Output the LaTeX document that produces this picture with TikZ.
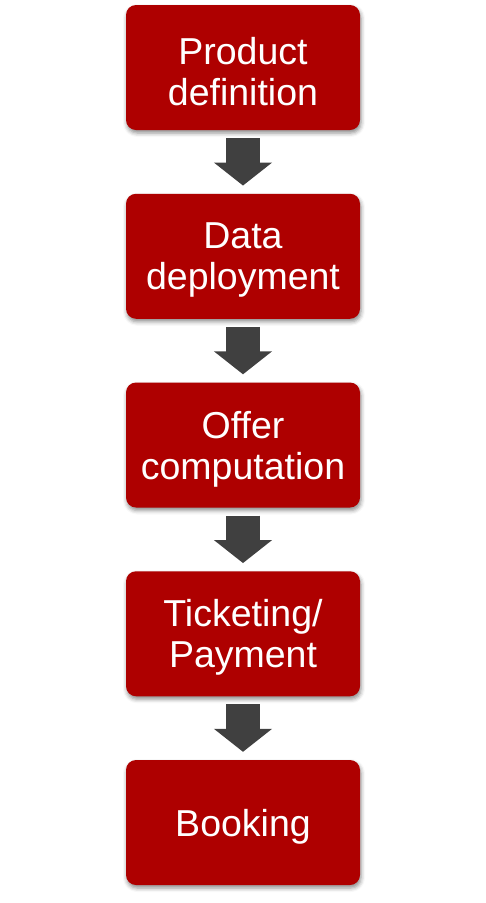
\documentclass[tikz,border=0pt]{standalone}
\usepackage{fontspec}
\setmainfont{Liberation Sans}
\usetikzlibrary{arrows.meta,calc,shadows.blur}
\definecolor{boxred}{HTML}{AE0000}
\definecolor{arrowgrey}{HTML}{404040}
\tikzset{
  stepbox/.style={fill=boxred, draw=none, rounded corners=10pt, minimum width=234pt, minimum height=125pt,
    inner sep=0pt,
    blur shadow={shadow xshift=1pt, shadow yshift=-3pt, shadow blur radius=4pt, shadow opacity=45}},
  steptext/.style={text=white, align=center, inner sep=0pt, yshift=-4pt,
    font=\fontsize{37.5pt}{41pt}\selectfont},
  flowarrow/.style={draw=arrowgrey, line width=34pt, -{Triangle[width=57pt,length=23pt]}}
}
\begin{document}
\begin{tikzpicture}[x=1pt,y=1pt]
\useasboundingbox (0,0) rectangle (486,-903);
\node[stepbox] (n1) at (243,-67.5) {};
\node[stepbox] (n2) at (243,-256.25) {};
\node[stepbox] (n3) at (243,-445) {};
\node[stepbox] (n4) at (243,-633.75) {};
\node[stepbox] (n5) at (243,-822.5) {};
\node[steptext] (t1) at (n1.center) {Product\\definition};
\node[steptext] (t2) at (n2.center) {Data\\deployment};
\node[steptext] (t3) at (n3.center) {Offer\\computation};
\node[steptext] (t4) at (n4.center) {Ticketing/\\Payment};
\node[steptext] (t5) at (n5.center) {Booking};
\foreach \a/\b in {n1/n2,n2/n3,n3/n4,n4/n5}{
  \draw[flowarrow] ($(\a.south)+(0,-8)$) -- ($(\b.north)+(0,8)$);
}
\end{tikzpicture}
\end{document}
